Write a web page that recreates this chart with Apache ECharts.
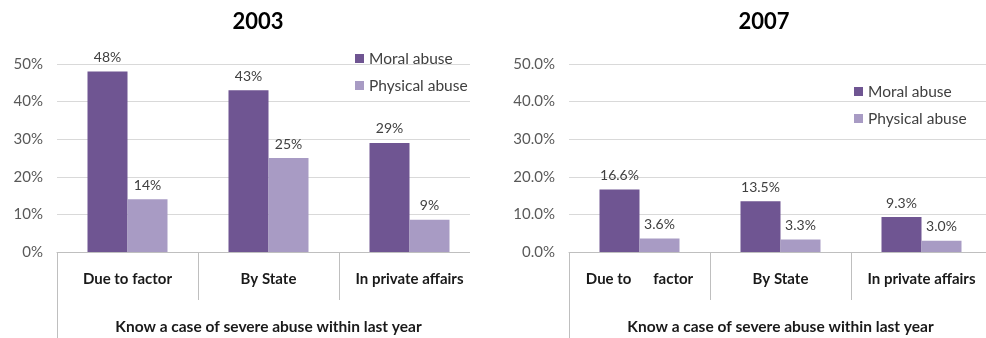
<!DOCTYPE html>
<html><head><meta charset="utf-8">
<script src="https://cdn.jsdelivr.net/npm/echarts@6/dist/echarts.min.js"></script>
<style>
html,body{margin:0;padding:0;background:#fff;width:986px;height:338px;overflow:hidden;}
.box{position:absolute;top:0;height:338px;overflow:hidden;}
.inner{width:500px;height:338px;}
</style></head>
<body>
<div class="box" style="left:0;width:470px;"><div id="c1" class="inner"></div></div>
<div class="box" style="left:496px;width:490px;"><div id="c2" class="inner"></div></div>
<script>
const seriesNames = ['Moral abuse', 'Physical abuse'];
const categories2003 = ['Due to factor', 'By State', 'In private affairs'];
const categories2007 = ['Due to      factor', 'By State', 'In private affairs'];
const outerCategory = ['Know a case of severe abuse within last year'];
const moral2003 = [48, 43, 29];
const physical2003 = [14, 25, 8.6];
const moral2007 = [16.6, 13.5, 9.3];
const physical2007 = [3.6, 3.3, 3.0];
const titles = ['2003', '2007'];

const FONT = 'Lato, "Open Sans", sans-serif';
const colors = ['#6f5592', '#a89bc4'];

function makeOption(title, titleX, gridLeft, legendLeft, legendTop, cats, moral, phys, dec) {
  const fmt = v => dec ? v.toFixed(1) + '%' : Math.round(v) + '%';
  const lbl = {
    show: true, position: 'top', distance: 7, color: '#404040',
    fontFamily: FONT, fontSize: 14,
    formatter: p => fmt(p.value)
  };
  return {
    animation: false,
    color: colors,
    title: {
      text: title, left: titleX, top: 6, textAlign: 'center',
      textStyle: {fontFamily: FONT, fontSize: 22, fontWeight: 'bold', color: '#000'}
    },
    legend: {
      orient: 'vertical', left: legendLeft, top: legendTop,
      itemWidth: 9, itemHeight: 9, itemGap: 10, icon: 'rect',
      textStyle: {fontFamily: FONT, fontSize: 15.5, color: '#404040', lineHeight: 17},
      data: seriesNames
    },
    grid: {left: gridLeft, top: 64, width: 423, height: 188, containLabel: false},
    xAxis: [
      {
        type: 'category', data: cats, position: 'bottom',
        axisLine: {show: true, lineStyle: {color: '#bfbfbf', width: 1}},
        axisTick: {show: true, interval: 0, length: 48, lineStyle: {color: '#bfbfbf'}},
        axisLabel: {interval: 0, margin: 20, color: '#1a1a1a', fontFamily: FONT, fontSize: 15, fontWeight: 'bold'}
      },
      {
        type: 'category', data: outerCategory, position: 'bottom',
        axisLine: {show: false},
        axisTick: {show: true, interval: 0, length: 95, lineStyle: {color: '#bfbfbf'}},
        axisLabel: {interval: 0, margin: 67, color: '#1a1a1a', fontFamily: FONT, fontSize: 15.5, fontWeight: 'bold'}
      }
    ],
    yAxis: {
      type: 'value', min: 0, max: 50, interval: 10,
      axisLine: {show: false}, axisTick: {show: false},
      splitLine: {lineStyle: {color: '#d9d9d9', width: 1}},
      axisLabel: {margin: 14, color: '#595959', fontFamily: FONT, fontSize: 15, formatter: v => fmt(v)}
    },
    series: [
      {name: seriesNames[0], type: 'bar', data: moral, barWidth: 40, barGap: '0%', label: lbl},
      {name: seriesNames[1], type: 'bar', data: phys, barWidth: 40, barGap: '0%', label: lbl}
    ]
  };
}

const c1 = echarts.init(document.getElementById('c1'), null, {renderer: 'canvas'});
c1.setOption(makeOption(titles[0], 253, 57, 350, 45, categories2003, moral2003, physical2003, false));
const c2 = echarts.init(document.getElementById('c2'), null, {renderer: 'canvas'});
c2.setOption(makeOption(titles[1], 263, 73, 353, 78, categories2007, moral2007, physical2007, true));
</script>
</body></html>
